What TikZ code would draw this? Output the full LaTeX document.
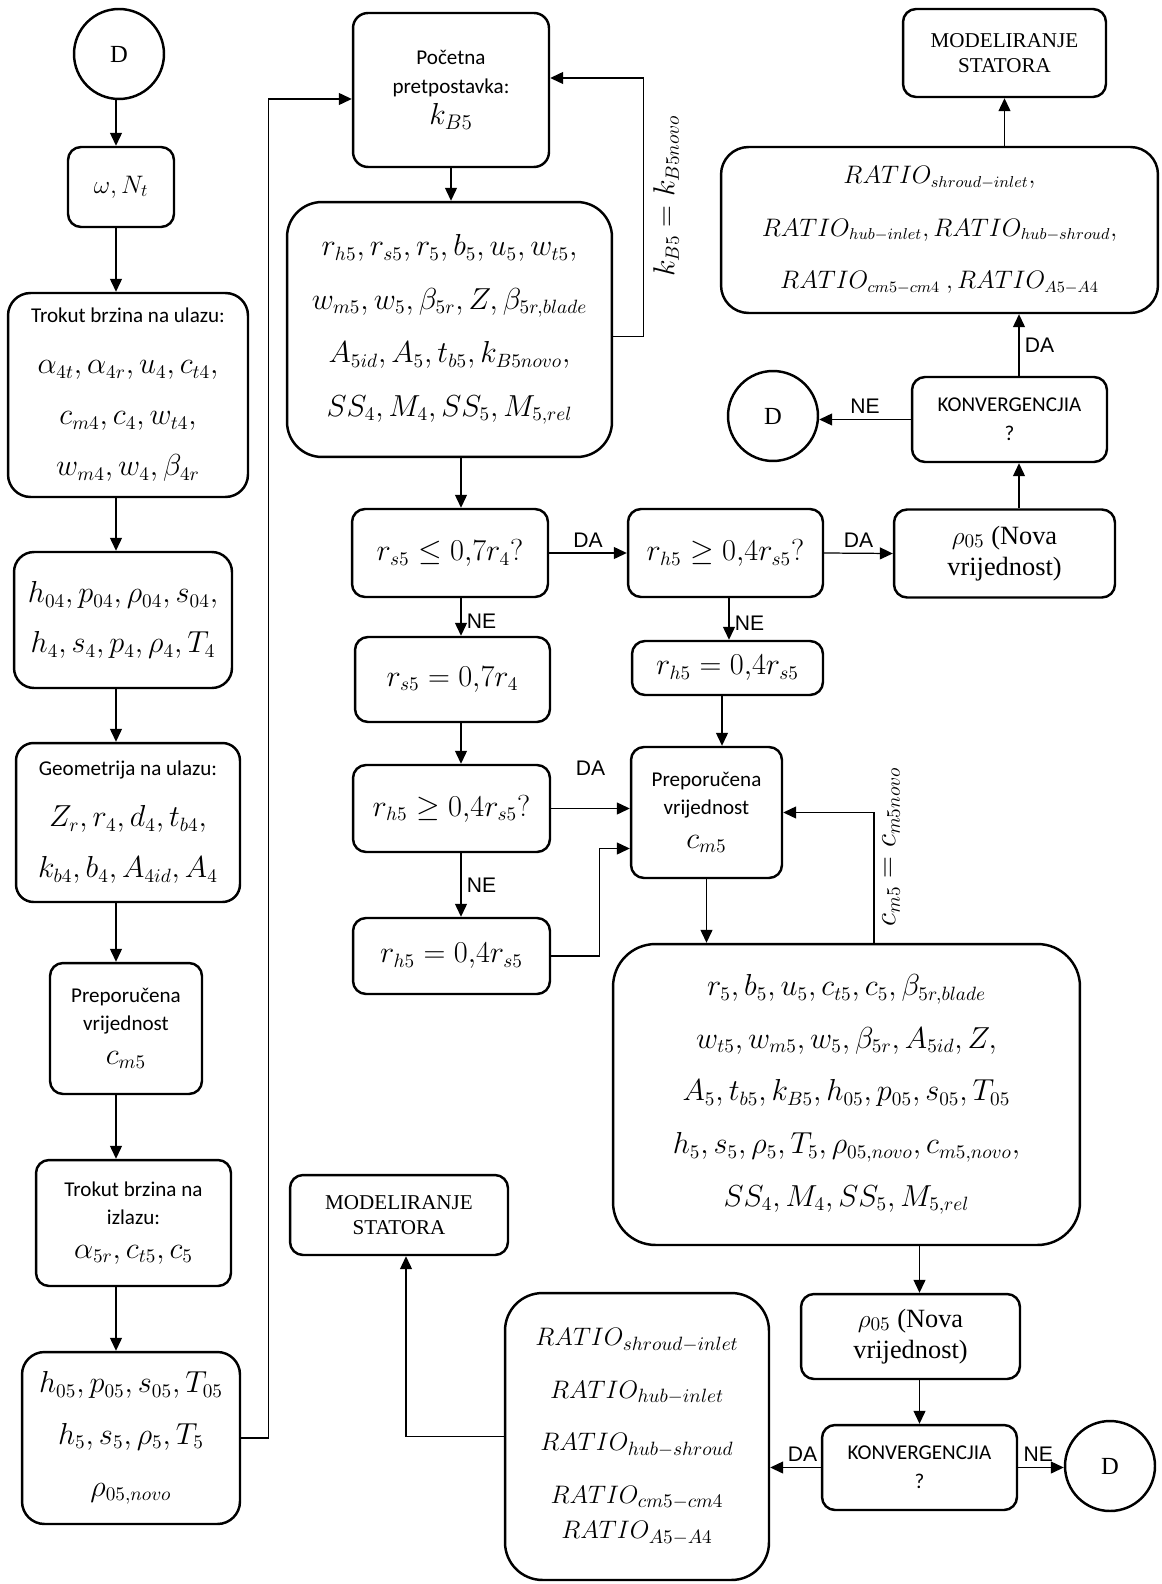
\documentclass[tikz,border=0pt]{standalone}
\usepackage{amsmath, amssymb}
\usepackage{fontspec}
\setmainfont{Liberation Serif}
\setsansfont{Carlito}
\newfontfamily\arialfont{Liberation Sans}
\usepackage{tikz}
\usetikzlibrary{arrows.meta, positioning, calc}
\newcommand{\boxtitle}[1]{{\sffamily\fontsize{12}{14}\selectfont #1}}

\begin{document}
\begin{tikzpicture}[
    x=0.02cm, y=-0.02cm,
    box/.style={draw, line width=1.4pt, rounded corners=0.26cm, align=center, inner sep=2pt},
    eqs/.style={font=\fontsize{16}{30}\selectfont},
    sftext/.style={font=\sffamily\fontsize{12}{16}\selectfont},
    rmtext/.style={font=\rmfamily\fontsize{12}{14}\selectfont},
    term/.style={draw, circle, line width=1.4pt, minimum size=1.8cm, inner sep=0pt, font=\rmfamily\fontsize{14}{16}\selectfont},
    conn/.style={line width=0.7pt, -{Triangle[length=0.26cm, width=0.24cm]}},
    yesno/.style={font=\arialfont\fontsize{12}{14}\selectfont, inner sep=3pt}
]
\useasboundingbox (0,0) rectangle (1161,1584);

% left column
\coordinate (colL) at (116,0);
\node[term] (Dtop) at (119,54) {D};
\node[box, font=\fontsize{14}{16}\selectfont, minimum width=2.12cm, minimum height=1.6cm] (omega) at (121,187) {$\omega, N_t$};
\node[box, font=\fontsize{16}{29}\selectfont, rounded corners=0.45cm, minimum width=4.8cm, minimum height=4.08cm] (trok1) at (128,395)
    {\boxtitle{Trokut brzina na ulazu:}\\ $\alpha_{4t},\alpha_{4r},u_4,c_{t4},$\\ $c_{m4},c_4,w_{t4},$\\ $w_{m4},w_4,\beta_{4r}$};
\node[box, font=\fontsize{16}{28.5}\selectfont, rounded corners=0.4cm, minimum width=4.36cm, minimum height=2.72cm] (h04) at (123,620)
    {$h_{04},p_{04},\rho_{04},s_{04},$\\ $h_4,s_4,p_4,\rho_4,T_4$};
\node[box, font=\fontsize{16}{29}\selectfont, rounded corners=0.35cm, minimum width=4.48cm, minimum height=3.18cm] (geo) at (128,822.5)
    {\boxtitle{Geometrija na ulazu:}\\ $Z_r,r_4,d_4,t_{b4},$\\ $k_{b4},b_4,A_{4id},A_4$};
\node[box, sftext, minimum width=3.04cm, minimum height=2.62cm] (prepL) at (126,1028.5)
    {Preporučena\\ vrijednost\\[3pt] {\fontsize{16}{16}\selectfont$c_{m5}$}};
\node[box, sftext, minimum width=3.9cm, minimum height=2.52cm] (trok2) at (133.5,1223)
    {Trokut brzina na\\ izlazu:\\[3pt] {\fontsize{16}{16}\selectfont$\alpha_{5r},c_{t5},c_5$}};
\node[box, font=\fontsize{16}{29.5}\selectfont, rounded corners=0.45cm, minimum width=4.36cm, minimum height=3.44cm] (h05) at (131,1438)
    {$h_{05},p_{05},s_{05},T_{05}$\\ $h_5,s_5,\rho_5,T_5$\\ $\rho_{05,novo}$};

\draw[conn] (Dtop.south -| colL) -- (omega.north -| colL);
\draw[conn] (omega.south -| colL) -- (trok1.north -| colL);
\draw[conn] (trok1.south -| colL) -- (h04.north -| colL);
\draw[conn] (h04.south -| colL) -- (geo.north -| colL);
\draw[conn] (geo.south -| colL) -- (prepL.north -| colL);
\draw[conn] (prepL.south -| colL) -- (trok2.north -| colL);
\draw[conn] (trok2.south -| colL) -- (h05.north -| colL);

% rotor loop
\node[box, sftext, minimum width=3.92cm, minimum height=3.08cm, rounded corners=0.3cm] (poc) at (451,90)
    {Početna\\ pretpostavka:\\[2pt] {\fontsize{17}{18}\selectfont$k_{B5}$}};
\node[box, font=\fontsize{16}{30.5}\selectfont, rounded corners=0.7cm, minimum width=6.5cm, minimum height=5.1cm] (big1) at (449.5,329.5)
    {$r_{h5},r_{s5},r_5,b_5,u_5,w_{t5},$\\ $w_{m5},w_5,\beta_{5r},Z,\beta_{5r,blade}$\\ $A_{5id},A_5,t_{b5},k_{B5novo},$\\ $SS_4,M_4,SS_5,M_{5,rel}$};
\draw[conn] (h05.east) -- ++(27,0) |- ($(poc.west)+(0,9)$);
\draw[conn] (poc.south) -- (poc.south |- big1.north);
\draw[conn] ($(big1.east)+(0,7)$) -- ++(30,0) |- ($(poc.east)+(0,-12)$);
\node[rotate=90, font=\fontsize{16}{18}\selectfont] (kfb) at (666,196) {$k_{B5}=k_{B5novo}$};

% checks of the radii
\coordinate (colM) at (461,0);
\coordinate (colB) at (729,0);
\coordinate (colE) at (722,0);
\node[box, eqs, minimum width=3.92cm, minimum height=1.76cm] (decA) at (450,553) {$r_{s5}\le 0{,}7r_4?$};
\node[box, eqs, minimum width=3.9cm, minimum height=1.76cm] (decB) at (725.5,553) {$r_{h5}\ge 0{,}4r_{s5}?$};
\node[box, font=\rmfamily\fontsize{15}{18}\selectfont, minimum width=4.42cm, minimum height=1.76cm] (rho1) at (1004.5,553.5)
    {$\rho_{05}$ (Nova\\ vrijednost)};
\node[box, eqs, minimum width=3.9cm, minimum height=1.7cm] (boxC) at (452.5,679.5) {$r_{s5}=0{,}7r_4$};
\node[box, eqs, minimum width=3.82cm, minimum height=1.08cm] (boxE) at (727.5,668) {$r_{h5}=0{,}4r_{s5}$};
\node[box, sftext, minimum width=3.02cm, minimum height=2.62cm] (prepM) at (706.5,812.5)
    {Preporučena\\ vrijednost\\[3pt] {\fontsize{16}{16}\selectfont$c_{m5}$}};
\node[box, eqs, minimum width=3.94cm, minimum height=1.74cm] (decG) at (451.5,808.5) {$r_{h5}\ge 0{,}4r_{s5}?$};
\node[box, eqs, minimum width=3.94cm, minimum height=1.52cm] (boxH) at (451.5,956) {$r_{h5}=0{,}4r_{s5}$};

\draw[conn] (big1.south -| colM) -- (decA.north -| colM);
\draw[conn] (decA.east) -- node[yesno, above] {DA} (decB.west);
\draw[conn] (decB.east) -- node[yesno, above] {DA} (rho1.west);
\draw[conn] (decA.south -| colM) -- node[yesno, right, pos=0.6] {NE} (boxC.north -| colM);
\draw[conn] (decB.south -| colB) -- node[yesno, right, pos=0.6] {NE} (boxE.north -| colB);
\draw[conn] (boxE.south -| colE) -- (prepM.north -| colE);
\draw[conn] (boxC.south -| colM) -- (decG.north -| colM);
\draw[conn] (decG.east) -- node[yesno, above=0.55cm] {DA} (decG.east -| prepM.west);
\draw[conn] (decG.south -| colM) -- node[yesno, right] {NE} (boxH.north -| colM);
\draw[conn] (boxH.east) -- ++(48,0) |- ($(prepM.west)+(0,36)$);

% top right: convergence
\coordinate (colR) at (1019,0);
\node[box, rmtext, minimum width=4.06cm, minimum height=1.76cm] (mod1) at (1004.5,53) {MODELIRANJE\\ STATORA};
\node[box, font=\fontsize{13.5}{30}\selectfont, rounded corners=0.55cm, minimum width=8.74cm, minimum height=3.32cm] (ratio1) at (939.5,230)
    {$RATIO_{shroud-inlet},$\\ $RATIO_{hub-inlet},RATIO_{hub-shroud},$\\ $RATIO_{cm5-cm4}\ ,RATIO_{A5-A4}$};
\node[box, font=\sffamily\fontsize{12}{16.5}\selectfont, minimum width=3.9cm, minimum height=1.7cm] (konv1) at (1009.5,419.5) {KONVERGENCJIA\\ ?};
\node[term] (Dmid) at (773,416) {D};
\draw[conn] (rho1.north -| colR) -- (konv1.south -| colR);
\draw[conn] (konv1.north -| colR) -- node[yesno, right] {DA} (ratio1.south -| colR);
\draw[conn] (konv1.west) -- node[yesno, above] {NE} (konv1.west -| Dmid.east);
\draw[conn] (ratio1.north -| mod1.south) -- (mod1.south);

% stator part
\coordinate (colF) at (874,0);
\node[box, font=\fontsize{16}{30}\selectfont, rounded corners=0.85cm, minimum width=9.34cm, minimum height=6.02cm] (big2) at (846.5,1094.5)
    {$r_5,b_5,u_5,c_{t5},c_5,\beta_{5r,blade}$\\ $w_{t5},w_{m5},w_5,\beta_{5r},A_{5id},Z,$\\ $A_5,t_{b5},k_{B5},h_{05},p_{05},s_{05},T_{05}$\\ $h_5,s_5,\rho_5,T_5,\rho_{05,novo},c_{m5,novo},$\\ $SS_4,M_4,SS_5,M_{5,rel}$};
\draw[conn] (prepM.south) -- (prepM.south |- big2.north);
\draw[conn] (big2.north -| colF) |- (prepM.east);
\node[rotate=90, font=\fontsize{16}{18}\selectfont] (cfb) at (891,847) {$c_{m5}=c_{m5novo}$};

\node[box, font=\rmfamily\fontsize{15}{18}\selectfont, minimum width=4.38cm, minimum height=1.7cm] (rho2) at (910.5,1336.5)
    {$\rho_{05}$ (Nova\\ vrijednost)};
\node[box, font=\sffamily\fontsize{12}{16.5}\selectfont, minimum width=3.9cm, minimum height=1.7cm] (konv2) at (919.5,1467.5) {KONVERGENCJIA\\ ?};
\node[term] (Dbot) at (1110,1466) {D};
\node[box, font=\fontsize{15}{30}\selectfont, rounded corners=0.75cm, minimum width=5.28cm, minimum height=5.74cm] (ratio2) at (637,1436.5)
    {$RATIO_{shroud-inlet}$\\ $RATIO_{hub-inlet}$\\ $RATIO_{hub-shroud}$\\ $RATIO_{cm5-cm4}$\\[-10pt] $RATIO_{A5-A4}$};
\node[box, rmtext, minimum width=4.36cm, minimum height=1.6cm] (mod2) at (399,1215) {MODELIRANJE\\ STATORA};

\draw[conn] (big2.south -| konv2.north) -- (rho2.north -| konv2.north);
\draw[conn] (rho2.south -| konv2.north) -- (konv2.north);
\draw[conn] (konv2.west) -- node[yesno, above, pos=0.36] {DA} (konv2.west -| ratio2.east);
\draw[conn] (konv2.east) -- node[yesno, above, pos=0.44] {NE} (konv2.east -| Dbot.west);
\draw[conn] (ratio2.west) -| ($(mod2.south)+(7,0)$);
\end{tikzpicture}
\end{document}
